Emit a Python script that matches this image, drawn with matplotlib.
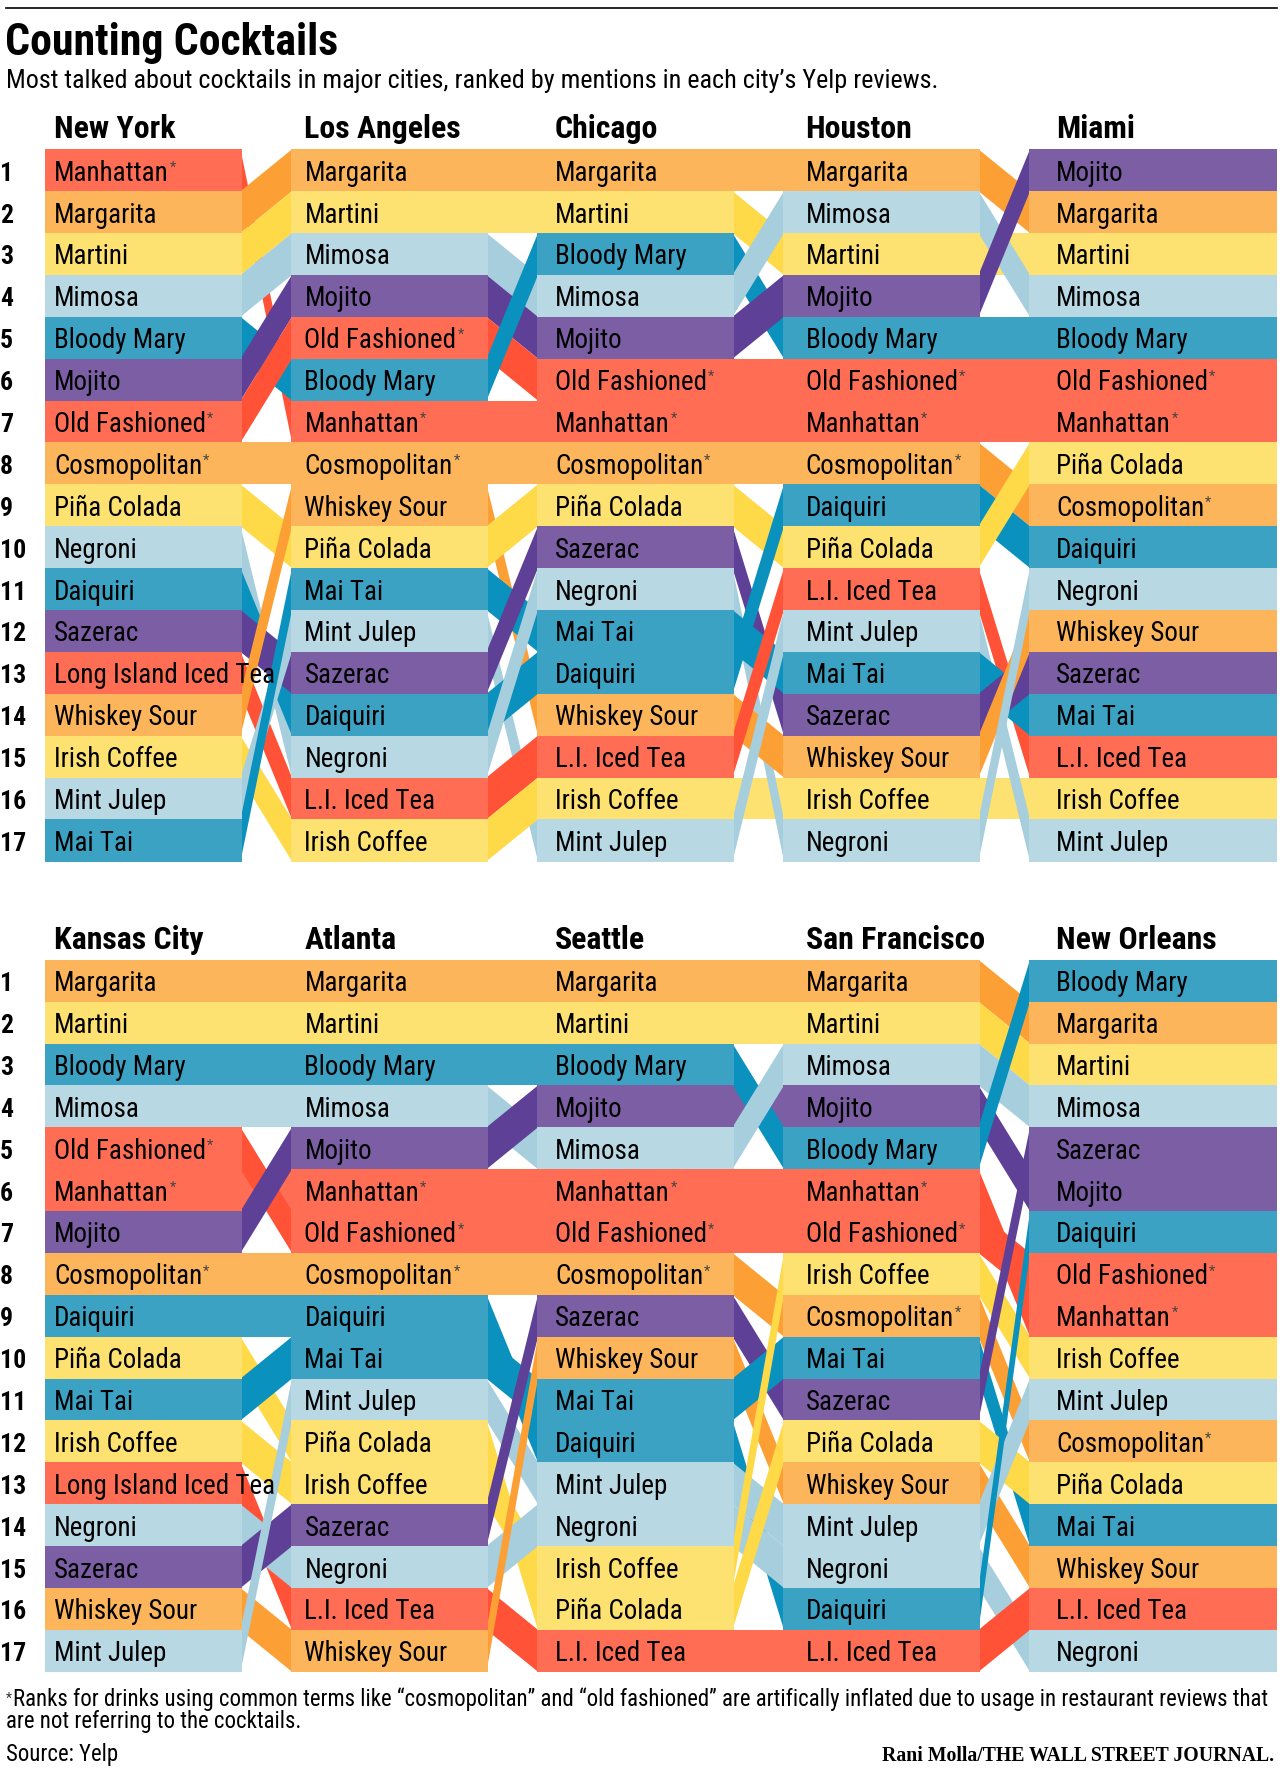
#!/usr/bin/env python3
import matplotlib
matplotlib.use("Agg")
import matplotlib.pyplot as plt
from matplotlib.patches import Polygon, Rectangle
from matplotlib import font_manager

TOP_CITIES = ["New York", "Los Angeles", "Chicago", "Houston", "Miami"]
BOTTOM_CITIES = ["Kansas City", "Atlanta", "Seattle", "San Francisco", "New Orleans"]

# trailing "*" = footnoted drink
NEW_YORK = ["Manhattan*", "Margarita", "Martini", "Mimosa", "Bloody Mary", "Mojito",
            "Old Fashioned*", "Cosmopolitan*", "Piña Colada", "Negroni", "Daiquiri",
            "Sazerac", "Long Island Iced Tea", "Whiskey Sour", "Irish Coffee",
            "Mint Julep", "Mai Tai"]
LOS_ANGELES = ["Margarita", "Martini", "Mimosa", "Mojito", "Old Fashioned*", "Bloody Mary",
               "Manhattan*", "Cosmopolitan*", "Whiskey Sour", "Piña Colada", "Mai Tai",
               "Mint Julep", "Sazerac", "Daiquiri", "Negroni", "L.I. Iced Tea",
               "Irish Coffee"]
CHICAGO = ["Margarita", "Martini", "Bloody Mary", "Mimosa", "Mojito", "Old Fashioned*",
           "Manhattan*", "Cosmopolitan*", "Piña Colada", "Sazerac", "Negroni", "Mai Tai",
           "Daiquiri", "Whiskey Sour", "L.I. Iced Tea", "Irish Coffee", "Mint Julep"]
HOUSTON = ["Margarita", "Mimosa", "Martini", "Mojito", "Bloody Mary", "Old Fashioned*",
           "Manhattan*", "Cosmopolitan*", "Daiquiri", "Piña Colada", "L.I. Iced Tea",
           "Mint Julep", "Mai Tai", "Sazerac", "Whiskey Sour", "Irish Coffee", "Negroni"]
MIAMI = ["Mojito", "Margarita", "Martini", "Mimosa", "Bloody Mary", "Old Fashioned*",
         "Manhattan*", "Piña Colada", "Cosmopolitan*", "Daiquiri", "Negroni",
         "Whiskey Sour", "Sazerac", "Mai Tai", "L.I. Iced Tea", "Irish Coffee",
         "Mint Julep"]

KANSAS_CITY = ["Margarita", "Martini", "Bloody Mary", "Mimosa", "Old Fashioned*",
               "Manhattan*", "Mojito", "Cosmopolitan*", "Daiquiri", "Piña Colada",
               "Mai Tai", "Irish Coffee", "Long Island Iced Tea", "Negroni", "Sazerac",
               "Whiskey Sour", "Mint Julep"]
ATLANTA = ["Margarita", "Martini", "Bloody Mary", "Mimosa", "Mojito", "Manhattan*",
           "Old Fashioned*", "Cosmopolitan*", "Daiquiri", "Mai Tai", "Mint Julep",
           "Piña Colada", "Irish Coffee", "Sazerac", "Negroni", "L.I. Iced Tea",
           "Whiskey Sour"]
SEATTLE = ["Margarita", "Martini", "Bloody Mary", "Mojito", "Mimosa", "Manhattan*",
           "Old Fashioned*", "Cosmopolitan*", "Sazerac", "Whiskey Sour", "Mai Tai",
           "Daiquiri", "Mint Julep", "Negroni", "Irish Coffee", "Piña Colada",
           "L.I. Iced Tea"]
SAN_FRANCISCO = ["Margarita", "Martini", "Mimosa", "Mojito", "Bloody Mary", "Manhattan*",
                 "Old Fashioned*", "Irish Coffee", "Cosmopolitan*", "Mai Tai", "Sazerac",
                 "Piña Colada", "Whiskey Sour", "Mint Julep", "Negroni", "Daiquiri",
                 "L.I. Iced Tea"]
NEW_ORLEANS = ["Bloody Mary", "Margarita", "Martini", "Mimosa", "Sazerac", "Mojito",
               "Daiquiri", "Old Fashioned*", "Manhattan*", "Irish Coffee", "Mint Julep",
               "Cosmopolitan*", "Piña Colada", "Mai Tai", "Whiskey Sour", "L.I. Iced Tea",
               "Negroni"]

TOP_RANKS = [NEW_YORK, LOS_ANGELES, CHICAGO, HOUSTON, MIAMI]
BOTTOM_RANKS = [KANSAS_CITY, ATLANTA, SEATTLE, SAN_FRANCISCO, NEW_ORLEANS]

ALIASES = {"Long Island Iced Tea": "L.I. Iced Tea"}

GROUP = {
    "Manhattan": "red", "Old Fashioned": "red", "L.I. Iced Tea": "red",
    "Margarita": "orange", "Cosmopolitan": "orange", "Whiskey Sour": "orange",
    "Martini": "yellow", "Piña Colada": "yellow", "Irish Coffee": "yellow",
    "Mimosa": "light", "Negroni": "light", "Mint Julep": "light",
    "Bloody Mary": "blue", "Daiquiri": "blue", "Mai Tai": "blue",
    "Mojito": "purple", "Sazerac": "purple",
}
BAR_COLOR = {"red": "#ff6e54", "orange": "#fdb55b", "yellow": "#fde171",
             "light": "#b8d8e4", "blue": "#3ca2c4", "purple": "#7b5ea3"}
LINK_COLOR = {"red": "#ff5237", "orange": "#fca036", "yellow": "#fed948",
              "light": "#a6cedd", "blue": "#0b91bd", "purple": "#5e4097"}

TITLE = "Counting Cocktails"
SUBTITLE = ("Most talked about cocktails in major cities, ranked by mentions "
            "in each city\u2019s Yelp reviews.")
NOTE_1 = ("Ranks for drinks using common terms like \u201ccosmopolitan\u201d and "
          "\u201cold fashioned\u201d are artifically inflated due to usage in "
          "restaurant reviews that")
NOTE_2 = "are not referring to the cocktails."
SOURCE = "Source: Yelp"
CREDIT = "Rani Molla/THE WALL STREET JOURNAL."

# layout, in pixels
W, H = 1280, 1791
COL_X0 = 45.0
COL_PITCH = 246.0
BAR_W = 196.5
RIGHT_EDGE = 1277.0
TEXT_X0 = 54.0
TEXT_PITCH = 250.5
ROW_H = 41.88
PANEL_TOPS = [149.3, 959.8]


def pick_font():
    names = {f.name for f in font_manager.fontManager.ttflist}
    for fam in ("Liberation Sans Narrow", "Roboto Condensed", "Open Sans Condensed"):
        if fam in names:
            return fam, "normal"
    return "DejaVu Sans", "condensed"


def fit_size(ax, renderer, text, target, **kw):
    # font size that makes `text` about `target` pixels wide
    t = ax.text(0, 0, text, fontsize=20, **kw)
    w = t.get_window_extent(renderer).width
    t.remove()
    return 20 * target / w


def drink_key(label):
    name = label.rstrip("*")
    return ALIASES.get(name, name)


def draw_panel(ax, cities, columns, top, st, stars):
    n = len(columns[0])

    def row_top(r):
        return top + r * ROW_H

    for c, col in enumerate(columns):
        x0 = COL_X0 + c * COL_PITCH
        x1 = RIGHT_EDGE if c == len(columns) - 1 else x0 + BAR_W
        tx = TEXT_X0 + c * TEXT_PITCH
        for r, label in enumerate(col):
            g = GROUP[drink_key(label)]
            ax.add_patch(Rectangle((x0, row_top(r)), x1 - x0, ROW_H + 0.4,
                                   facecolor=BAR_COLOR[g], edgecolor="none", zorder=5))
            t = ax.text(tx, row_top(r) + 0.75 * ROW_H, label.rstrip("*"),
                        fontsize=st["label"], va="baseline", ha="left",
                        color="black", zorder=10, **st["font"])
            if label.endswith("*"):
                stars.append((t, row_top(r) + 0.75 * ROW_H))
        ax.text(tx, top - 11, cities[c], fontsize=st["head"], fontweight="bold",
                va="baseline", ha="left", **st["font"])

    for c in range(len(columns) - 1):
        xa = COL_X0 + c * COL_PITCH + BAR_W
        xb = COL_X0 + (c + 1) * COL_PITCH
        nxt = {drink_key(l): r for r, l in enumerate(columns[c + 1])}
        for ra, label in enumerate(columns[c]):
            k = drink_key(label)
            rb = nxt[k]
            g = GROUP[k]
            if ra == rb:
                color, z = BAR_COLOR[g], 1
            elif rb < ra:
                # rising bands sit on top
                color, z = LINK_COLOR[g], 3 + 0.01 * (ra - rb)
            else:
                color, z = LINK_COLOR[g], 2 - 0.01 * (rb - ra)
            pts = [(xa - 1, row_top(ra)), (xb + 1, row_top(rb)),
                   (xb + 1, row_top(rb) + ROW_H), (xa - 1, row_top(ra) + ROW_H)]
            ax.add_patch(Polygon(pts, closed=True, facecolor=color,
                                 edgecolor="none", zorder=z))

    for r in range(n):
        ax.text(0, row_top(r) + 0.75 * ROW_H, str(r + 1), fontsize=st["rank"],
                fontweight="bold", va="baseline", ha="left", **st["font"])


def main():
    fam, stretch = pick_font()
    font = {"family": fam, "stretch": stretch}

    fig = plt.figure(figsize=(W / 100, H / 100), dpi=100)
    ax = fig.add_axes([0, 0, 1, 1])
    ax.set_xlim(0, W)
    ax.set_ylim(H, 0)
    ax.axis("off")
    renderer = fig.canvas.get_renderer()

    st = {
        "font": font,
        "label": fit_size(ax, renderer, "Bloody Mary", 131, **font),
        "head": fit_size(ax, renderer, "New York", 121, fontweight="bold", **font),
        "rank": fit_size(ax, renderer, "17", 26, fontweight="bold", **font),
    }
    title_size = fit_size(ax, renderer, TITLE, 332, fontweight="bold", **font)
    sub_size = fit_size(ax, renderer, SUBTITLE, 932, **font)
    note_size = fit_size(ax, renderer, NOTE_1, 1250, **font)
    credit_size = fit_size(ax, renderer, CREDIT, 391, family="Liberation Serif",
                           fontweight="bold")

    ax.plot([6, RIGHT_EDGE], [8, 8], color="black", linewidth=1.2)
    ax.text(5, 55, TITLE, fontsize=title_size, fontweight="bold", va="baseline", **font)
    ax.text(6, 88, SUBTITLE, fontsize=sub_size, va="baseline", **font)

    stars = []
    draw_panel(ax, TOP_CITIES, TOP_RANKS, PANEL_TOPS[0], st, stars)
    draw_panel(ax, BOTTOM_CITIES, BOTTOM_RANKS, PANEL_TOPS[1], st, stars)

    ax.text(6, 1692, "*", fontsize=10, color="#333333", va="top", **font)
    ax.text(13, 1706, NOTE_1, fontsize=note_size, va="baseline", **font)
    ax.text(6, 1728, NOTE_2, fontsize=note_size, va="baseline", **font)
    ax.text(6, 1761, SOURCE, fontsize=note_size, va="baseline", **font)
    ax.text(RIGHT_EDGE - 3, 1761, CREDIT, family="Liberation Serif",
            fontweight="bold", fontsize=credit_size, va="baseline", ha="right")

    for t, base in stars:
        bb = t.get_window_extent(renderer)
        ax.text(bb.x1 + 1, base - 20, "*", fontsize=10.5, color="#444444",
                va="top", ha="left", zorder=11, **font)

    fig.savefig("out.png", dpi=100)
    plt.close(fig)


if __name__ == "__main__":
    main()
